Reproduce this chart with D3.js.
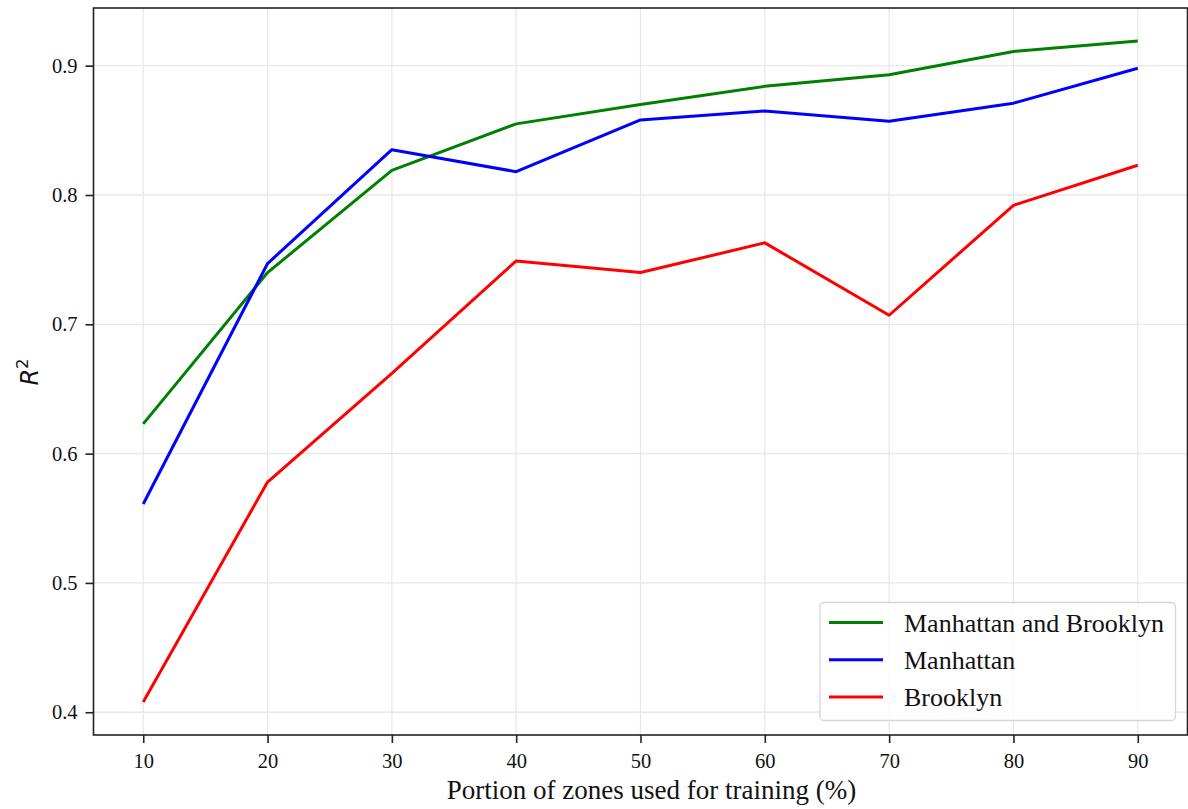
<!DOCTYPE html>
<html>
<head>
<meta charset="utf-8">
<script src="https://cdn.jsdelivr.net/npm/d3@7"></script>
<style>
  body { margin: 0; background: #fff; }
  svg text { font-family: "Liberation Serif", "Times New Roman", serif; fill: #111; }
</style>
</head>
<body>
<div id="chart"></div>
<script>
// data
var portions = [10, 20, 30, 40, 50, 60, 70, 80, 90];
var bothR2 = [0.623, 0.740, 0.819, 0.855, 0.870, 0.884, 0.893, 0.911, 0.919];
var manhattanR2 = [0.561, 0.747, 0.835, 0.818, 0.858, 0.865, 0.857, 0.871, 0.898];
var brooklynR2 = [0.408, 0.578, 0.662, 0.749, 0.740, 0.763, 0.707, 0.792, 0.823];
var seriesNames = ["Manhattan and Brooklyn", "Manhattan", "Brooklyn"];
var seriesColors = ["#008000", "#0000ff", "#ff0000"];
var xTicks = [10, 20, 30, 40, 50, 60, 70, 80, 90];
var yTicks = [0.4, 0.5, 0.6, 0.7, 0.8, 0.9];

var svgWidth = 1188;
var svgHeight = 809;
var margin = { top: 8, right: 0.5, bottom: 74, left: 93.5 };
var width = svgWidth - margin.left - margin.right;
var height = svgHeight - margin.top - margin.bottom;

var svg = d3.select("#chart")
  .append("svg")
  .attr("width", svgWidth)
  .attr("height", svgHeight);

var chartGroup = svg.append("g")
  .attr("transform", `translate(${margin.left}, ${margin.top})`);

var xScale = d3.scaleLinear().domain([6, 94]).range([0, width]);
var yScale = d3.scaleLinear().domain([0.3824, 0.9446]).range([height, 0]);

// grid
chartGroup.append("g")
  .selectAll("line")
  .data(xTicks)
  .enter()
  .append("line")
  .attr("x1", d => xScale(d)).attr("x2", d => xScale(d))
  .attr("y1", 0).attr("y2", height)
  .attr("stroke", "#e8e8e8").attr("stroke-width", 1.3);

chartGroup.append("g")
  .selectAll("line")
  .data(yTicks)
  .enter()
  .append("line")
  .attr("x1", 0).attr("x2", width)
  .attr("y1", d => yScale(d)).attr("y2", d => yScale(d))
  .attr("stroke", "#e8e8e8").attr("stroke-width", 1.3);

// lines
var allSeries = [bothR2, manhattanR2, brooklynR2];
var line = d3.line()
  .x((d, i) => xScale(portions[i]))
  .y(d => yScale(d));

allSeries.forEach(function(vals, k) {
  chartGroup.append("path")
    .datum(vals)
    .attr("d", line)
    .attr("fill", "none")
    .attr("stroke", seriesColors[k])
    .attr("stroke-width", 3)
    .attr("stroke-linejoin", "round");
});

// axes
var bottomAxis = d3.axisBottom(xScale).tickValues(xTicks).tickSize(8).tickSizeOuter(0).tickPadding(10);
var leftAxis = d3.axisLeft(yScale).tickValues(yTicks).tickSize(8).tickSizeOuter(0).tickPadding(8)
  .tickFormat(d3.format(".1f"));

var xAxis = chartGroup.append("g")
  .attr("transform", `translate(0, ${height})`)
  .call(bottomAxis);
var yAxis = chartGroup.append("g").call(leftAxis);

[xAxis, yAxis].forEach(function(ax) {
  ax.select(".domain").remove();
  ax.selectAll("line").attr("stroke", "#222").attr("stroke-width", 1.6);
  ax.selectAll("text")
    .attr("font-family", "Liberation Serif")
    .attr("font-size", 20.5)
    .attr("fill", "#111");
});

// frame
chartGroup.append("rect")
  .attr("x", 0).attr("y", 0)
  .attr("width", width).attr("height", height)
  .attr("fill", "none")
  .attr("stroke", "#222")
  .attr("stroke-width", 1.6);

// axis labels
svg.append("text")
  .attr("x", margin.left + width / 2 + 11)
  .attr("y", 799)
  .attr("text-anchor", "middle")
  .attr("font-size", 27)
  .text("Portion of zones used for training (%)");

var yLabel = svg.append("text")
  .attr("transform", "translate(38, 372) rotate(-90)")
  .attr("text-anchor", "middle")
  .style("font-family", "DejaVu Sans")
  .attr("font-size", 24);
yLabel.append("tspan").style("font-style", "italic").text("R");
yLabel.append("tspan").attr("font-size", 16.5).attr("dy", -10).text("2");

// legend
var legend = svg.append("g");
legend.append("rect")
  .attr("x", 820).attr("y", 602.5)
  .attr("width", 355.5).attr("height", 118)
  .attr("rx", 4)
  .attr("fill", "#fff").attr("fill-opacity", 0.8)
  .attr("stroke", "#d6d6d6").attr("stroke-width", 1.3);

seriesNames.forEach(function(name, k) {
  var y = 622.5 + k * 37.2;
  legend.append("line")
    .attr("x1", 829).attr("x2", 883)
    .attr("y1", y).attr("y2", y)
    .attr("stroke", seriesColors[k]).attr("stroke-width", 3);
  legend.append("text")
    .attr("x", 904).attr("y", y + 9)
    .attr("font-size", 26)
    .text(name);
});
</script>
</body>
</html>
